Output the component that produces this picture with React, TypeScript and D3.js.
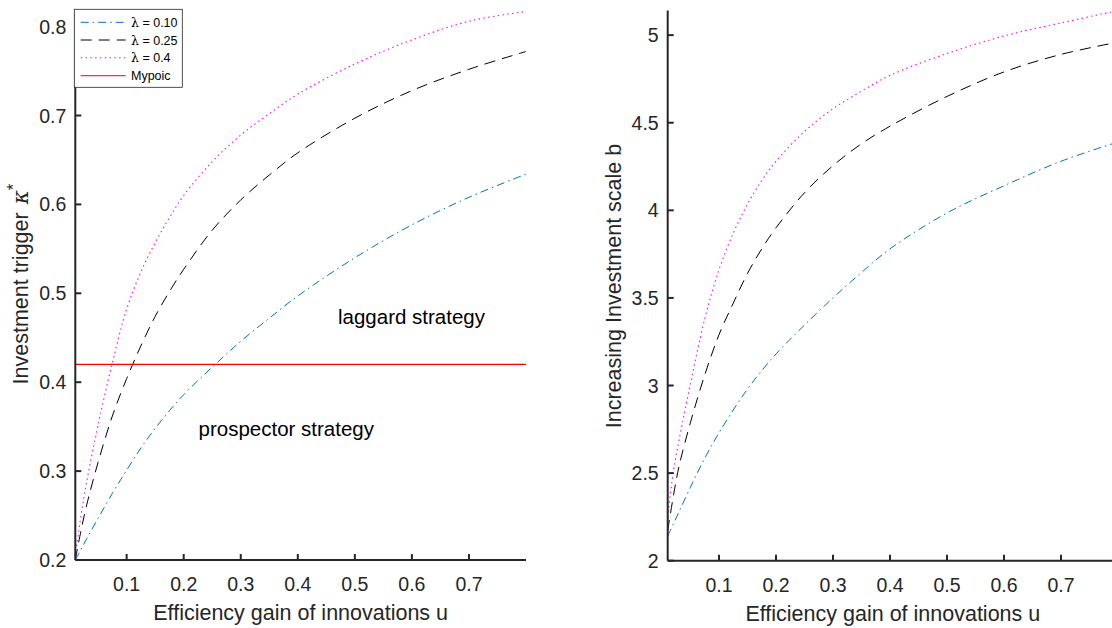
import React from "react";
import * as d3 from "d3";

// ---- Data ----
const uGrid = [0.01, 0.02, 0.03, 0.05, 0.075, 0.1, 0.125, 0.15, 0.175, 0.2, 0.25, 0.3, 0.35, 0.4, 0.5, 0.6, 0.7, 0.8];

// Left panel: investment trigger kappa*
const kappaL10 = [0.2, 0.212, 0.224, 0.247, 0.275, 0.301, 0.326, 0.348, 0.368, 0.386, 0.417, 0.446, 0.472, 0.497, 0.54, 0.577, 0.608, 0.634];
const kappaL25 = [0.2, 0.233, 0.262, 0.31, 0.362, 0.404, 0.441, 0.474, 0.502, 0.527, 0.571, 0.605, 0.633, 0.658, 0.697, 0.728, 0.752, 0.772];
const kappaL40 = [0.205, 0.25, 0.288, 0.352, 0.422, 0.482, 0.524, 0.557, 0.585, 0.61, 0.648, 0.678, 0.702, 0.724, 0.758, 0.785, 0.806, 0.817];
const myopicLevel = 0.42;

// Right panel: increasing investment scale b
const scaleL10 = [2.14, 2.21, 2.28, 2.42, 2.585, 2.73, 2.86, 2.98, 3.085, 3.18, 3.345, 3.5, 3.645, 3.78, 3.985, 4.14, 4.28, 4.39];
const scaleL25 = [2.17, 2.37, 2.54, 2.79, 3.06, 3.29, 3.47, 3.64, 3.78, 3.9, 4.1, 4.255, 4.38, 4.48, 4.65, 4.79, 4.89, 4.96];
const scaleL40 = [2.25, 2.51, 2.69, 3.01, 3.38, 3.66, 3.87, 4.035, 4.17, 4.28, 4.45, 4.58, 4.68, 4.77, 4.895, 4.995, 5.07, 5.14];

const xTicks = [0.1, 0.2, 0.3, 0.4, 0.5, 0.6, 0.7];
const leftYTicks = [0.2, 0.3, 0.4, 0.5, 0.6, 0.7, 0.8];
const rightYTicks = [2, 2.5, 3, 3.5, 4, 4.5, 5];

const legendLabels = ["0.10", "0.25", "0.4"];
const myopicLabel = "Mypoic";

// ---- Styles ----
const FONT = "'Liberation Sans', Arial, Helvetica, sans-serif";
const AX = "#262626";
const series = [
  { color: "#0072BD", dash: "8,4,1.5,4", width: 1 },
  { color: "#000000", dash: "11,7", width: 1 },
  { color: "#FF00FF", dash: "1.5,3.3", width: 1.1 },
];

type Panel = {
  x: d3.ScaleLinear<number, number>;
  y: d3.ScaleLinear<number, number>;
  yTicks: number[];
  data: number[][];
};

function Axes({ p }: { p: Panel }) {
  const [x0, x1] = p.x.range();
  const [y0, y1] = p.y.range();
  return (
    <g>
      <line x1={x0} x2={x1} y1={y0} y2={y0} stroke={AX} strokeWidth={2} />
      <line x1={x0} x2={x0} y1={y0} y2={y1} stroke={AX} strokeWidth={2} />
      {xTicks.map((t) => (
        <g key={"x" + t}>
          <line x1={p.x(t)} x2={p.x(t)} y1={y0} y2={y0 - 6} stroke={AX} strokeWidth={2} />
          <text x={p.x(t)} y={y0 + 31} textAnchor="middle" fontSize={19.5} fill={AX} fontFamily={FONT}>
            {String(t)}
          </text>
        </g>
      ))}
      {p.yTicks.map((t) => (
        <g key={"y" + t}>
          <line x1={x0} x2={x0 + 6} y1={p.y(t)} y2={p.y(t)} stroke={AX} strokeWidth={2} />
          <text x={x0 - 9} y={p.y(t) + 7} textAnchor="end" fontSize={19.5} fill={AX} fontFamily={FONT}>
            {String(t)}
          </text>
        </g>
      ))}
      <text x={(x0 + x1) / 2} y={y0 + 60} textAnchor="middle" fontSize={21.5} fill={AX} fontFamily={FONT}>
        Efficiency gain of innovations u
      </text>
    </g>
  );
}

function Curves({ p }: { p: Panel }) {
  const line = d3
    .line<number>()
    .x((_, i) => p.x(uGrid[i]))
    .y((d) => p.y(d))
    .curve(d3.curveCatmullRom.alpha(0.5));
  return (
    <g>
      {p.data.map((vals, k) => (
        <path
          key={k}
          d={line(vals) || ""}
          fill="none"
          stroke={series[k].color}
          strokeWidth={series[k].width}
          strokeDasharray={series[k].dash}
        />
      ))}
    </g>
  );
}

export default function App() {
  const left: Panel = {
    x: d3.scaleLinear().domain([0.01, 0.8]).range([75.3, 526]),
    y: d3.scaleLinear().domain([0.2, 0.817]).range([560, 11.5]),
    yTicks: leftYTicks,
    data: [kappaL10, kappaL25, kappaL40],
  };
  const right: Panel = {
    x: d3.scaleLinear().domain([0.01, 0.8]).range([667.7, 1118]),
    y: d3.scaleLinear().domain([2, 5.14]).range([560.7, 10.6]),
    yTicks: rightYTicks,
    data: [scaleL10, scaleL25, scaleL40],
  };

  const legX = 74.3;
  const legY = 9.3;
  const rowY = [22.3, 40, 57.7, 75.7];

  return (
    <svg
      width={1112}
      height={628}
      viewBox="0 0 1112 628"
      style={{ position: "absolute", left: 0, top: 0, background: "#fff" }}
    >
      <rect x={0} y={0} width={1112} height={628} fill="#fff" />

      {/* Left panel */}
      <Curves p={left} />
      <line
        x1={left.x(0.01)}
        x2={left.x(0.8)}
        y1={left.y(myopicLevel)}
        y2={left.y(myopicLevel)}
        stroke="#FF0000"
        strokeWidth={1.2}
      />
      <Axes p={left} />
      <text x={338} y={324} fontSize={20.5} fill="#000" fontFamily={FONT}>
        laggard strategy
      </text>
      <text x={198.5} y={435.5} fontSize={20.5} fill="#000" fontFamily={FONT}>
        prospector strategy
      </text>
      <text
        transform="translate(28,284) rotate(-90)"
        textAnchor="middle"
        fontSize={21.5}
        fill={AX}
        fontFamily={FONT}
      >
        Investment trigger
        <tspan dx={8} fontStyle="italic" fontFamily="'DejaVu Serif', 'Liberation Serif', serif">
          κ
        </tspan>
        <tspan dy={-9} fontSize={17}>*</tspan>
      </text>

      {/* Legend */}
      <g>
        <rect x={legX} y={legY} width={108} height={78} fill="#fff" stroke={AX} strokeWidth={0.8} />
        {legendLabels.map((lab, k) => (
          <g key={lab}>
            <line
              x1={80.7}
              x2={125.7}
              y1={rowY[k]}
              y2={rowY[k]}
              stroke={series[k].color}
              strokeWidth={series[k].width}
              strokeDasharray={series[k].dash}
            />
            <text x={131} y={rowY[k] + 4.5} fontSize={12.5} fill="#000" fontFamily={FONT}>
              <tspan fontFamily="'DejaVu Serif', 'Liberation Serif', serif">λ</tspan>
              {" = " + lab}
            </text>
          </g>
        ))}
        <line x1={80.7} x2={125.7} y1={rowY[3]} y2={rowY[3]} stroke="#FF0000" strokeWidth={1} />
        <text x={131} y={rowY[3] + 4.5} fontSize={12.5} fill="#000" fontFamily={FONT}>
          {myopicLabel}
        </text>
      </g>

      {/* Right panel */}
      <Curves p={right} />
      <Axes p={right} />
      <text
        transform="translate(621,286) rotate(-90)"
        textAnchor="middle"
        fontSize={21.5}
        fill={AX}
        fontFamily={FONT}
      >
        Increasing Investment scale b
      </text>
    </svg>
  );
}
